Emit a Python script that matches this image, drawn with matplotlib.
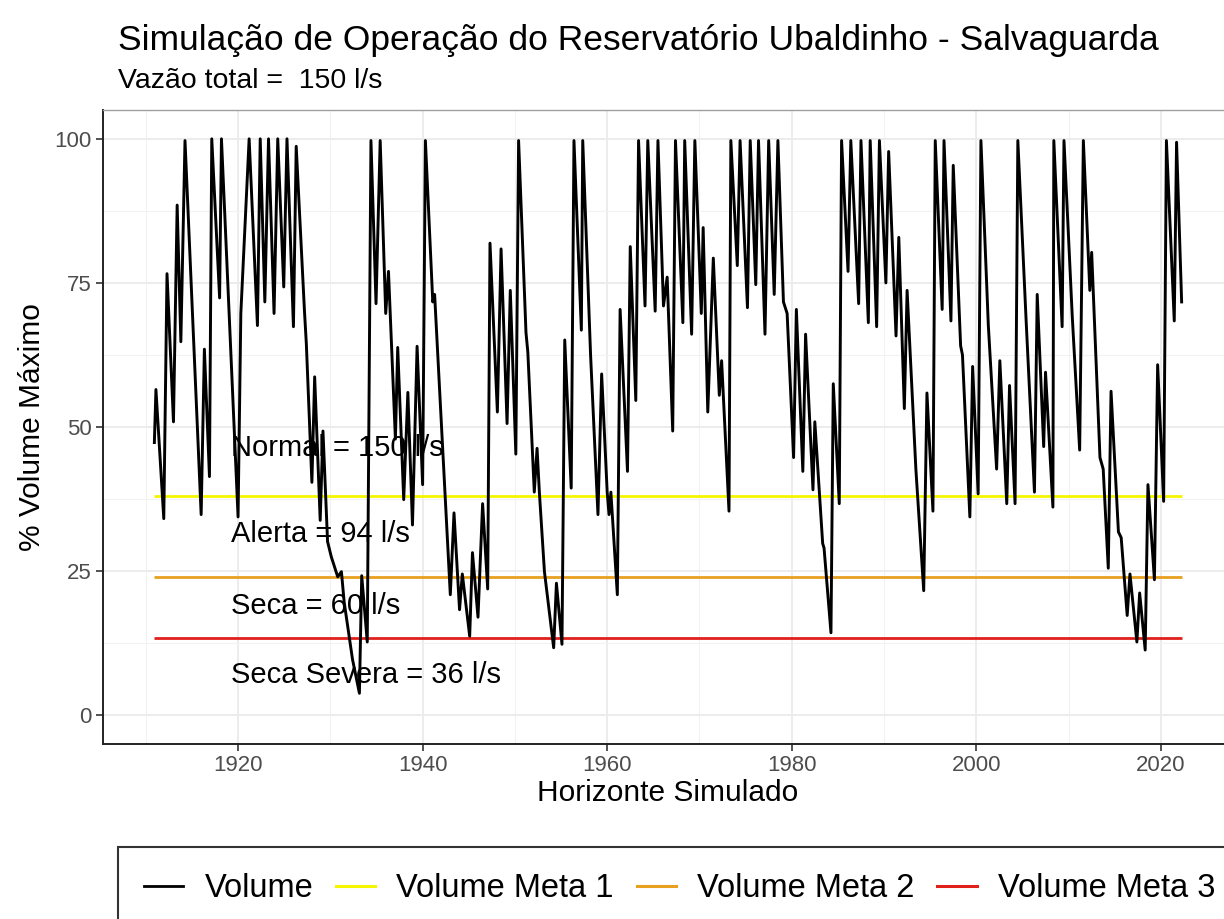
import matplotlib.pyplot as plt
from matplotlib.ticker import MultipleLocator
from matplotlib.lines import Line2D

plt.rcParams['font.family'] = ['Liberation Sans', 'DejaVu Sans']

# turning points read off the simulated series (year, % of max volume)
anos = [1910.93, 1911.1, 1911.95, 1912.3, 1913.0, 1913.4, 1913.8, 1914.25, 1916.0, 1916.35,
        1916.9, 1917.15, 1918.0, 1918.2, 1920.0, 1920.3, 1921.2, 1922.1, 1922.4, 1922.9,
        1923.3, 1923.9, 1924.3, 1924.95, 1925.3, 1926.0, 1926.3, 1927.2, 1927.4, 1928.0,
        1928.3, 1928.9, 1929.2, 1929.7, 1930.1, 1930.8, 1931.2, 1931.5, 1932.4, 1933.15,
        1933.4, 1934.0, 1934.4, 1934.95, 1935.4, 1936.0, 1936.3, 1937.05, 1937.3, 1937.95,
        1938.4, 1938.9, 1939.4, 1940.0, 1940.3, 1941.1, 1941.3, 1943.0, 1943.4, 1944.0,
        1944.3, 1945.1, 1945.4, 1946.0, 1946.5, 1947.05, 1947.3, 1948.1, 1948.5, 1949.15,
        1949.5, 1950.1, 1950.4, 1951.2, 1951.4, 1952.1, 1952.4, 1952.65, 1953.2, 1954.2,
        1954.5, 1955.1, 1955.4, 1956.1, 1956.4, 1957.2, 1957.35, 1958.2, 1959.0, 1959.4,
        1960.0, 1960.2, 1960.4, 1961.1, 1961.4, 1962.2, 1962.5, 1963.1, 1963.4, 1964.1,
        1964.4, 1965.2, 1965.5, 1966.1, 1966.5, 1967.1, 1967.4, 1968.2, 1968.4, 1969.15,
        1969.5, 1970.2, 1970.4, 1970.9, 1971.5, 1972.15, 1972.4, 1973.2, 1973.4, 1974.1,
        1974.4, 1975.2, 1975.5, 1976.1, 1976.4, 1977.1, 1977.5, 1978.1, 1978.5, 1979.1,
        1979.5, 1980.2, 1980.5, 1981.2, 1981.5, 1982.3, 1982.5, 1983.0, 1983.35, 1983.5,
        1984.25, 1984.5, 1985.15, 1985.4, 1986.1, 1986.4, 1987.25, 1987.5, 1988.3, 1988.5,
        1989.2, 1989.5, 1990.2, 1990.5, 1991.3, 1991.6, 1992.2, 1992.5, 1993.45, 1994.3,
        1994.65, 1995.3, 1995.55, 1996.3, 1996.5, 1997.25, 1997.5, 1998.3, 1998.5, 1999.3,
        1999.6, 2000.2, 2000.5, 2001.3, 2002.2, 2002.55, 2003.3, 2003.6, 2004.2, 2004.5,
        2005.4, 2006.3, 2006.6, 2007.3, 2007.5, 2008.3, 2008.4, 2009.3, 2009.5, 2010.4,
        2011.2, 2011.6, 2012.3, 2012.5, 2013.4, 2013.75, 2014.3, 2014.6, 2015.4, 2015.7,
        2016.35, 2016.65, 2017.4, 2017.7, 2018.3, 2018.6, 2019.3, 2019.65, 2020.3, 2020.6,
        2021.45, 2021.7, 2022.25]
volume = [47.3, 56.5, 34.1, 76.6, 50.9, 88.5, 64.8, 99.7, 34.8, 63.5,
          41.4, 100, 72.4, 100, 34.4, 69.7, 100, 67.6, 100, 71.7,
          100, 69.7, 100, 74.3, 100, 67.4, 98.7, 70.0, 64.4, 40.4,
          58.7, 33.8, 49.3, 30.1, 27.5, 24.0, 24.9, 19.6, 9.7, 3.8,
          24.2, 12.7, 99.7, 71.4, 99.7, 69.7, 77.0, 47.9, 63.8, 37.4,
          56.0, 33.0, 64.0, 40.0, 99.7, 71.7, 73.0, 20.9, 35.1, 18.3,
          24.5, 13.7, 28.2, 17.0, 36.7, 21.9, 81.9, 52.6, 80.9, 50.6,
          73.7, 45.3, 99.7, 66.4, 63.0, 38.7, 46.3, 38.7, 24.9, 11.7,
          22.9, 12.3, 65.1, 39.4, 99.7, 66.8, 99.7, 62.5, 34.8, 59.2,
          38.7, 34.8, 38.7, 20.9, 70.4, 42.3, 81.3, 54.6, 99.7, 71.0,
          99.7, 70.1, 99.7, 71.0, 76.0, 49.3, 99.7, 68.1, 99.7, 66.1,
          99.7, 69.7, 84.6, 52.6, 79.3, 55.5, 61.5, 35.4, 99.7, 78.0,
          99.7, 70.7, 99.7, 74.7, 99.7, 66.1, 99.7, 73.0, 99.7, 71.7,
          69.7, 44.7, 70.4, 42.3, 66.1, 39.1, 50.9, 38.4, 29.8, 29.0,
          14.3, 57.5, 36.7, 99.7, 77.0, 99.7, 71.4, 99.7, 68.1, 99.7,
          67.4, 99.7, 75.0, 97.8, 65.8, 82.9, 53.2, 73.7, 42.7, 21.6,
          55.9, 35.4, 99.7, 70.4, 99.7, 68.4, 95.4, 64.1, 62.5, 34.4,
          60.5, 38.4, 99.7, 67.7, 42.7, 61.5, 36.7, 57.2, 36.7, 99.7,
          68.4, 38.7, 73.0, 46.6, 59.5, 36.1, 99.7, 67.4, 99.7, 69.1,
          46.0, 99.7, 73.7, 80.3, 44.7, 42.7, 25.5, 56.2, 31.8, 30.8,
          17.3, 24.5, 12.7, 21.2, 11.3, 40.0, 23.5, 60.8, 37.1, 99.7,
          68.4, 99.4, 71.7]

metas = [38.0, 24.0, 13.4]
meta_labels = ['Volume Meta 1', 'Volume Meta 2', 'Volume Meta 3']
meta_colors = ['#F5F500', '#E8A020', '#E0201B']

faixas = ['Normal = 150 l/s', 'Alerta = 94 l/s', 'Seca = 60 l/s', 'Seca Severa = 36 l/s']
faixas_y = [46.3, 31.4, 19.0, 6.9]
faixas_x = 1919.2

fig = plt.figure(figsize=(12.24, 9.19), dpi=100)
ax = fig.add_axes([103 / 1224, 175 / 919, 1130 / 1224, 634 / 919])

# labels sit under the lines like in the original
for lab, yy in zip(faixas, faixas_y):
    ax.text(faixas_x, yy, lab, fontsize=21, va='center', ha='left', color='black', zorder=1)

ax.plot(anos, volume, color='black', lw=2.1, zorder=3)
for m, c in zip(metas, meta_colors):
    ax.hlines(m, anos[0], anos[-1], color=c, lw=2.0, zorder=2)

span = anos[-1] - anos[0]
ax.set_xlim(anos[0] - 0.05 * span, anos[-1] + 0.05 * span)
ax.set_ylim(-5, 105)

ax.xaxis.set_major_locator(MultipleLocator(20))
ax.xaxis.set_minor_locator(MultipleLocator(10))
ax.yaxis.set_major_locator(MultipleLocator(25))
ax.yaxis.set_minor_locator(MultipleLocator(12.5))
ax.grid(which='major', color='#EBEBEB', lw=1.3, zorder=0)
ax.grid(which='minor', color='#F2F2F2', lw=0.8, zorder=0)
ax.set_axisbelow(True)
ax.tick_params(which='minor', length=0)
ax.tick_params(which='major', length=5, width=1.2, color='#333333',
               labelsize=16, labelcolor='#4D4D4D', pad=3)

for s in ['top', 'right']:
    ax.spines[s].set_color('#A0A0A0')
    ax.spines[s].set_linewidth(1.0)
for s in ['left', 'bottom']:
    ax.spines[s].set_color('#222222')
    ax.spines[s].set_linewidth(1.4)

ax.set_xlabel('Horizonte Simulado', fontsize=21.5, labelpad=2)
ax.set_ylabel('% Volume Máximo', fontsize=21.5, labelpad=6)

fig.text(118 / 1224, 1 - 50 / 919, 'Simulação de Operação do Reservatório Ubaldinho - Salvaguarda',
         fontsize=25.5, va='baseline', ha='left')
fig.text(118 / 1224, 1 - 88 / 919, 'Vazão total =  150 l/s', fontsize=20.5, va='baseline', ha='left')

handles = [Line2D([], [], color='black', lw=2)]
handles += [Line2D([], [], color=c, lw=2.2) for c in meta_colors]
leg = fig.legend(handles, ['Volume'] + meta_labels, loc='upper left',
                 bbox_to_anchor=(118 / 1224, 1 - 847 / 919), ncol=4, fontsize=23.5,
                 frameon=True, fancybox=False, edgecolor='black', borderpad=0.8,
                 handlelength=1.2, handletextpad=0.65, columnspacing=0.7,
                 borderaxespad=0)
leg.get_frame().set_linewidth(1.5)

fig.savefig('out.png', dpi=100)
